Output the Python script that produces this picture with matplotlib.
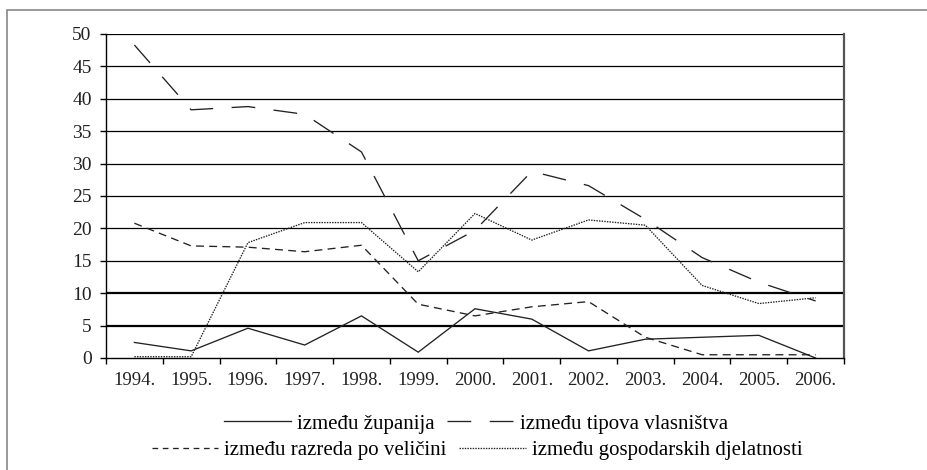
import numpy as np
import matplotlib
matplotlib.use("Agg")
import matplotlib.pyplot as plt
from matplotlib.patches import Rectangle
from matplotlib.lines import Line2D

plt.rcParams['font.family'] = ['Liberation Serif', 'DejaVu Serif']

# data
years = ['1994.', '1995.', '1996.', '1997.', '1998.', '1999.', '2000.',
         '2001.', '2002.', '2003.', '2004.', '2005.', '2006.']
zupanije = [2.4, 1.1, 4.6, 2.0, 6.5, 0.9, 7.6, 6.0, 1.1, 2.9, 3.2, 3.5, 0.0]
vlasnistvo = [48.3, 38.3, 38.8, 37.6, 31.8, 15.0, 19.7, 28.8, 26.6, 21.4, 15.5, 11.7, 8.8]
velicina = [20.8, 17.3, 17.1, 16.4, 17.4, 8.3, 6.5, 7.9, 8.7, 3.2, 0.5, 0.5, 0.5]
djelatnosti = [0.2, 0.2, 17.8, 20.9, 20.9, 13.3, 22.3, 18.2, 21.3, 20.5, 11.2, 8.4, 9.3]

labels = ['između županija', 'između tipova vlasništva',
          'između razreda po veličini', 'između gospodarskih djelatnosti']

ink = '#222222'
fig = plt.figure(figsize=(9.27, 4.70), dpi=100)
ax = fig.add_axes([106/927, 1-358/470, 738/927, 324/470])

x = np.arange(len(years))
l1, = ax.plot(x, zupanije, color=ink, lw=0.95, solid_joinstyle='miter')
l2, = ax.plot(x, vlasnistvo, color=ink, lw=0.95, dashes=(18, 14))
l3, = ax.plot(x, velicina, color=ink, lw=0.95, dashes=(6, 4))
l4, = ax.plot(x, djelatnosti, color=ink, lw=0.95, dashes=(1.1, 0.9))

# horizontal gridlines (5 and 10 look heavier in the original)
for yv in range(5, 55, 5):
    ax.axhline(yv, color='black', lw=1.6 if yv in (5, 10) else 0.9, zorder=0.5)

ax.set_xlim(-0.5, len(years) - 0.5)
ax.set_ylim(0, 50)
ax.set_yticks(range(0, 55, 5))
ax.set_xticks(x)
ax.set_xticklabels(years)
ax.set_xticks(np.arange(-0.5, len(years), 1.0), minor=True)
ax.tick_params(axis='x', which='major', length=0, pad=10, labelsize=13.5, labelcolor=ink)
ax.tick_params(axis='x', which='minor', length=4, width=1, color='black', direction='out')
ax.tick_params(axis='y', length=4.3, width=1, color='black', pad=6, labelsize=14, labelcolor=ink)

for s in ['left', 'bottom']:
    ax.spines[s].set_color('black')
    ax.spines[s].set_linewidth(1)
ax.spines['top'].set_visible(False)
ax.spines['right'].set_color('#555555')
ax.spines['right'].set_linewidth(1.6)

# legend, two centred rows
leg_kw = dict(ncol=2, frameon=False, fontsize=15, handlelength=3.2,
              handletextpad=0.3, columnspacing=0.58, borderpad=0, borderaxespad=0)
fig.legend([l1, l2], labels[:2], loc='center', bbox_to_anchor=(476/927, 1-424/470), **leg_kw)
h3 = Line2D([], [], color=ink, lw=0.95, dashes=(4.3, 3.5))
fig.legend([h3, l4], labels[2:], loc='center', bbox_to_anchor=(477/927, 1-450/470), **leg_kw)

# outer frame, cut off at right and bottom
fig.patches.append(Rectangle((7.5/927, -0.5), 2, (470-10)/470 + 0.5,
                             transform=fig.transFigure, fill=False,
                             edgecolor='#888888', lw=1.2))

fig.savefig('out.png', dpi=100)
